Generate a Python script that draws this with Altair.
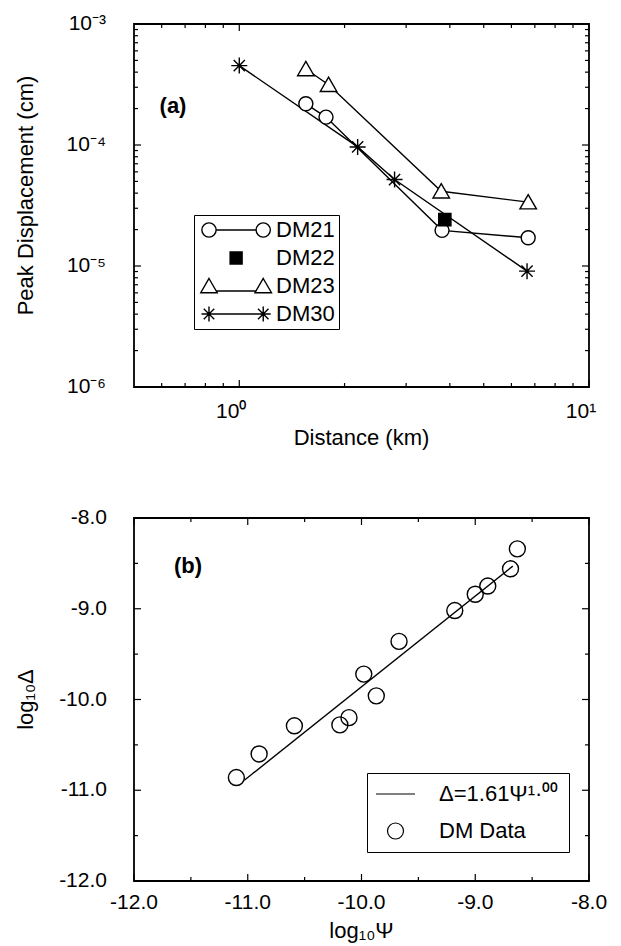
import altair as alt
import pandas as pd

FONT = "Liberation Sans"
W, H = 455, 363
LW = 1.4

# ---------------- panel (a) data ----------------
series_names = ["DM21", "DM22", "DM23", "DM30"]
dm21_dist = [1.55, 1.77, 3.80, 6.70]
dm21_disp = [2.19e-4, 1.70e-4, 1.97e-5, 1.71e-5]
dm22_dist = [3.87]
dm22_disp = [2.42e-5]
dm23_dist = [1.55, 1.80, 3.78, 6.70]
dm23_disp = [4.25e-4, 3.15e-4, 4.15e-5, 3.37e-5]
dm30_dist = [1.00, 2.18, 2.78, 6.65]
dm30_disp = [4.53e-4, 9.64e-5, 5.18e-5, 9.07e-6]

# ---------------- panel (b) data ----------------
log_psi = [-11.10, -10.90, -10.59, -10.19, -10.11, -9.98, -9.87, -9.67, -9.18, -9.00, -8.89, -8.69, -8.63]
log_delta = [-10.86, -10.60, -10.29, -10.28, -10.20, -9.72, -9.96, -9.36, -9.02, -8.84, -8.75, -8.56, -8.34]
fit_log_psi = [-11.03, -8.67]
fit_log_delta = [-10.89, -8.53]

# ---------------- ticks and labels ----------------
top_x_major = [1, 10]
top_x_labels = ["10\u2070", "10\u00b9"]
top_x_minor = [0.6, 0.7, 0.8, 0.9, 2, 3, 4, 5, 6, 7, 8, 9]
top_y_major = [1e-6, 1e-5, 1e-4, 1e-3]
top_y_labels = ["10\u207b\u2076", "10\u207b\u2075", "10\u207b\u2074", "10\u207b\u00b3"]
top_y_minor = [m * 10.0 ** e for e in (-6, -5, -4) for m in range(2, 10)]
bot_major = [-12, -11, -10, -9, -8]
bot_labels = ["-12.0", "-11.0", "-10.0", "-9.0", "-8.0"]
bot_minor = [-11.5, -10.5, -9.5, -8.5]

fit_names = ["fit", "data"]
fit_label_text = "\u0394=1.61\u03a8\u00b9\u00b7\u2070\u2070"
data_label_text = "DM Data"

top_x_title = "Distance (km)"
top_y_title = "Peak Displacement (cm)"
bot_x_title = "log\u2081\u2080\u03a8"
bot_y_title = "log\u2081\u2080\u0394"
panel_a = "(a)"
panel_b = "(b)"

# ---------------- shapes ----------------
ASTER = "M0,-1L0,1M-1,0L1,0M-0.7,-0.7L0.7,0.7M-0.7,0.7L0.7,-0.7"
TRI = "M0,-1L1.1,0.9L-1.1,0.9Z"
LEG21 = ("M0.95,0L6.28,0M0.95,0A0.95,0.95 0 1,1 -0.95,0A0.95,0.95 0 1,1 0.95,0"
         "M8.18,0A0.95,0.95 0 1,1 6.28,0A0.95,0.95 0 1,1 8.18,0")
LEG22 = "M2.815,-0.8L4.415,-0.8L4.415,0.8L2.815,0.8Z"
LEG23 = "M0,-1L1.1,0.9L-1.1,0.9ZM0.97,0.67L6.26,0.67M7.23,-1L8.33,0.9L6.13,0.9Z"
LEG30 = (ASTER + "M0,0L7.23,0M7.23,-1L7.23,1M6.23,0L8.23,0M6.53,-0.7L7.93,0.7M6.53,0.7L7.93,-0.7")
LEGFIT = "M-1.5,0L3.375,0"
LEGDATA = "M1.9375,0A1,1 0 1,1 -0.0625,0A1,1 0 1,1 1.9375,0"

rows = []
for name, xs, ys in zip(series_names, [dm21_dist, dm22_dist, dm23_dist, dm30_dist],
                        [dm21_disp, dm22_disp, dm23_disp, dm30_disp]):
    for a, b in zip(xs, ys):
        rows.append({"series": name, "dist": a, "disp": b})
top_df = pd.DataFrame(rows)

xs_top = alt.Scale(type="log", domain=[0.5, 10], nice=False)
ys_top = alt.Scale(type="log", domain=[1e-6, 1e-3], nice=False)
X_top = lambda f: alt.X(f, type="quantitative", scale=xs_top, axis=None)
Y_top = lambda f: alt.Y(f, type="quantitative", scale=ys_top, axis=None)

xs_bot = alt.Scale(domain=[-12, -8], nice=False, zero=False)
ys_bot = alt.Scale(domain=[-12, -8], nice=False, zero=False)
X_bot = lambda f: alt.X(f, type="quantitative", scale=xs_bot, axis=None)
Y_bot = lambda f: alt.Y(f, type="quantitative", scale=ys_bot, axis=None)


def one(text):
    return pd.DataFrame({"t": [text]})


def ticks(values, xenc, yenc, major_len, minor_vals):
    df_major = pd.DataFrame({"v": values})
    df_minor = pd.DataFrame({"v": minor_vals})
    out = []
    for df, L in ((df_major, major_len), (df_minor, 4)):
        if xenc is not None:
            out.append(alt.Chart(df).mark_rule(color="black", strokeWidth=1.2).encode(
                x=xenc("v"), y=alt.value(H), y2=alt.value(H - L)))
            out.append(alt.Chart(df).mark_rule(color="black", strokeWidth=1.2).encode(
                x=xenc("v"), y=alt.value(0), y2=alt.value(L)))
        else:
            out.append(alt.Chart(df).mark_rule(color="black", strokeWidth=1.2).encode(
                y=yenc("v"), x=alt.value(0), x2=alt.value(L)))
            out.append(alt.Chart(df).mark_rule(color="black", strokeWidth=1.2).encode(
                y=yenc("v"), x=alt.value(W), x2=alt.value(W - L)))
    return out


# ---------------- panel (a) ----------------
lines_a = alt.Chart(top_df).transform_filter("datum.series != 'DM22'").mark_line(
    color="black", strokeWidth=LW).encode(x=X_top("dist"), y=Y_top("disp"), detail="series:N")


def pts(name, shape, size, fill):
    return alt.Chart(top_df).transform_filter(f"datum.series == '{name}'").mark_point(
        shape=shape, size=size, filled=True, fill=fill, stroke="black", strokeWidth=LW,
        opacity=1).encode(x=X_top("dist"), y=Y_top("disp"))


legend_a = alt.Legend(
    title=None, orient="none", legendX=60, legendY=191,
    strokeColor="black", fillColor="white", padding=4,
    symbolSize=225, symbolStrokeWidth=LW, symbolStrokeColor="black", symbolOpacity=1,
    labelFont=FONT, labelFontSize=22, labelColor="black", labelOffset=56,
    labelBaseline="middle", rowPadding=6,
)
leg_layer_a = alt.Chart(top_df).transform_filter("false").mark_point(
    filled=False, strokeWidth=LW).encode(
    shape=alt.Shape("series:N", scale=alt.Scale(domain=series_names,
                                                range=[LEG21, LEG22, LEG23, LEG30]),
                    legend=legend_a),
    fill=alt.Fill("series:N", scale=alt.Scale(domain=series_names,
                                              range=["white", "black", "white", "white"]),
                  legend=legend_a),
    stroke=alt.Stroke("series:N", scale=alt.Scale(domain=series_names,
                                                  range=["black", "black", "black", "black"]),
                      legend=legend_a),
)

ylab_a = alt.Chart(pd.DataFrame({"v": top_y_major, "t": top_y_labels})).mark_text(
    align="right", baseline="middle", font=FONT, fontSize=21, color="black").encode(
    y=Y_top("v"), x=alt.value(-28), text="t:N")
xlab_a = alt.Chart(pd.DataFrame({"v": top_x_major, "t": top_x_labels})).mark_text(
    align="center", baseline="middle", font=FONT, fontSize=21, color="black", dx=-8).encode(
    x=X_top("v"), y=alt.value(H + 25), text="t:N")
xt_a = alt.Chart(one(top_x_title)).mark_text(
    font=FONT, fontSize=22, color="black", baseline="middle").encode(
    text="t:N", x=alt.value(W / 2), y=alt.value(H + 51))
yt_a = alt.Chart(one(top_y_title)).mark_text(
    font=FONT, fontSize=22, color="black", baseline="middle", angle=270).encode(
    text="t:N", x=alt.value(-108), y=alt.value(H / 2 - 10))
pl_a = alt.Chart(one(panel_a)).mark_text(
    font=FONT, fontSize=22, fontWeight="bold", color="black", baseline="middle").encode(
    text="t:N", x=alt.value(39), y=alt.value(82))

top = alt.layer(
    *ticks(top_x_major, X_top, None, 7, top_x_minor),
    *ticks(top_y_major, None, Y_top, 7, top_y_minor),
    lines_a,
    pts("DM21", "circle", 196, "white"),
    pts("DM22", "square", 150, "black"),
    pts("DM23", TRI, 225, "white"),
    pts("DM30", ASTER, 256, "white"),
    leg_layer_a, ylab_a, xlab_a, xt_a, yt_a, pl_a,
).properties(width=W, height=H)

# ---------------- panel (b) ----------------
bot_df = pd.DataFrame({"psi": log_psi, "delta": log_delta})
fit_df = pd.DataFrame({"psi": fit_log_psi, "delta": fit_log_delta})

fit_line = alt.Chart(fit_df).mark_line(color="black", strokeWidth=LW).encode(
    x=X_bot("psi"), y=Y_bot("delta"))
data_pts = alt.Chart(bot_df).mark_point(
    shape="circle", size=256, filled=False, stroke="black", strokeWidth=LW, opacity=1).encode(
    x=X_bot("psi"), y=Y_bot("delta"))

legend_b = alt.Legend(
    title=None, orient="none", legendX=233, legendY=255,
    strokeColor="black", fillColor="white", padding=10,
    symbolSize=256, symbolStrokeWidth=1.2, symbolStrokeColor="black", symbolOpacity=1,
    labelFont=FONT, labelFontSize=22, labelColor="black", labelOffset=40,
    labelBaseline="middle", rowPadding=15,
    labelExpr=f"datum.value == 'fit' ? '{fit_label_text}' : '{data_label_text}'",
)
leg_layer_b = alt.Chart(pd.DataFrame({"kind": fit_names})).transform_filter("false").mark_point(
    filled=False, stroke="black", strokeWidth=1.2).encode(
    shape=alt.Shape("kind:N", scale=alt.Scale(domain=fit_names, range=[LEGFIT, LEGDATA]),
                    legend=legend_b))

ylab_b = alt.Chart(pd.DataFrame({"v": bot_major, "t": bot_labels})).mark_text(
    align="right", baseline="middle", font=FONT, fontSize=21, color="black").encode(
    y=Y_bot("v"), x=alt.value(-27), text="t:N")
xlab_b = alt.Chart(pd.DataFrame({"v": bot_major, "t": bot_labels})).mark_text(
    align="center", baseline="middle", font=FONT, fontSize=21, color="black").encode(
    x=X_bot("v"), y=alt.value(H + 22), text="t:N")
xt_b = alt.Chart(one(bot_x_title)).mark_text(
    font=FONT, fontSize=22, color="black", baseline="middle").encode(
    text="t:N", x=alt.value(W / 2), y=alt.value(H + 50))
yt_b = alt.Chart(one(bot_y_title)).mark_text(
    font=FONT, fontSize=22, color="black", baseline="middle", angle=270).encode(
    text="t:N", x=alt.value(-108), y=alt.value(H / 2))
pl_b = alt.Chart(one(panel_b)).mark_text(
    font=FONT, fontSize=22, fontWeight="bold", color="black", baseline="middle").encode(
    text="t:N", x=alt.value(54), y=alt.value(48))

bot = alt.layer(
    *ticks(bot_major, X_bot, None, 7, bot_minor),
    *ticks(bot_major, None, Y_bot, 7, bot_minor),
    fit_line, data_pts, leg_layer_b, ylab_b, xlab_b, xt_b, yt_b, pl_b,
).properties(width=W, height=H)

chart = alt.vconcat(top, bot, spacing=56).resolve_scale(
    shape="independent", fill="independent", stroke="independent"
).resolve_legend(
    shape="independent", fill="independent", stroke="independent"
).properties(
    padding={"left": 6, "top": 4, "right": 0, "bottom": 0},
    background="white",
).configure_view(stroke="black", strokeWidth=1.8)

chart.save("out.html", embed_options={"renderer": "svg", "actions": False})
